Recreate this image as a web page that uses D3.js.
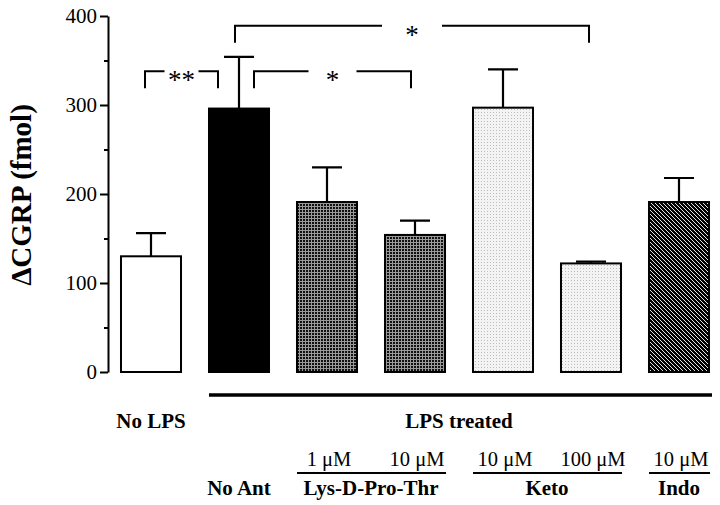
<!DOCTYPE html>
<html>
<head>
<meta charset="utf-8">
<script src="https://cdn.jsdelivr.net/npm/d3@7"></script>
<style>
  body { margin: 0; background: #fff; }
  svg { display: block; font-family: "Liberation Serif", "Times New Roman", serif; }
  .bar { stroke: #000; stroke-width: 2; }
  .err { stroke: #000; stroke-width: 2.2; fill: none; }
  .bracket { stroke: #000; stroke-width: 2; fill: none; }
  .axis path, .axis line { stroke: #000; stroke-width: 2; }
  .axis text { font-family: "Liberation Serif", "Times New Roman", serif; font-size: 21px; fill: #000; }
  .cat { font-size: 21px; font-weight: bold; }
  .dose { font-size: 20.5px; }
  .star { font-size: 27px; }
</style>
</head>
<body>
<div id="wrapper"></div>
<script>
// data
const conditions = ["No LPS", "No Ant", "LDPT 1", "LDPT 10", "Keto 10", "Keto 100", "Indo 10"]
const means = [130, 296, 191, 154, 297, 122, 191]
const sems = [26, 58, 39, 16, 43, 2, 27]
const doses = ["", "", "1 \u03bcM", "10 \u03bcM", "10 \u03bcM", "100 \u03bcM", "10 \u03bcM"]
const treatments = [
    { label: "No LPS", first: 0, last: 0, line: false },
    { label: "LPS treated", first: 1, last: 6, line: true },
]
const drugs = [
    { label: "No Ant", first: 1, last: 1 },
    { label: "Lys-D-Pro-Thr", first: 2, last: 3 },
    { label: "Keto", first: 4, last: 5 },
    { label: "Indo", first: 6, last: 6 },
]
const comparisons = [
    { from: 0, to: 1, label: "**" },
    { from: 1, to: 3, label: "*" },
    { from: 1, to: 5, label: "*" },
]
const yTicks = [0, 100, 200, 300, 400]
const yMinorTicks = [50, 150, 250, 350]

function drawChart() {

    const dimensions = {
        width: 720,
        height: 505,
    }

    const svg = d3.select("#wrapper")
        .append("svg")
        .attr("width", dimensions.width)
        .attr("height", dimensions.height)

    const defs = svg.append("defs")

    // dark checker fill
    const darkDots = defs.append("pattern")
        .attr("id", "dots-dark")
        .attr("width", 3).attr("height", 3)
        .attr("patternUnits", "userSpaceOnUse")
    darkDots.append("rect").attr("width", 3).attr("height", 3).attr("fill", "#9a9a9a")
    darkDots.append("rect").attr("width", 2).attr("height", 2).attr("fill", "#111")

    // light stipple fill
    const lightDots = defs.append("pattern")
        .attr("id", "dots-light")
        .attr("width", 3).attr("height", 3)
        .attr("patternUnits", "userSpaceOnUse")
    lightDots.append("rect").attr("width", 3).attr("height", 3).attr("fill", "#f3f3f3")
    lightDots.append("rect").attr("x", 1).attr("y", 1).attr("width", 1).attr("height", 1).attr("fill", "#bdbdbd")

    // black with white diagonal hatching
    const hatch = defs.append("pattern")
        .attr("id", "hatch")
        .attr("width", 4).attr("height", 4)
        .attr("patternUnits", "userSpaceOnUse")
    hatch.append("rect").attr("width", 4).attr("height", 4).attr("fill", "#000")
    hatch.selectAll(".px")
        .data(d3.range(4))
        .join("rect")
        .attr("x", d => d).attr("y", d => d)
        .attr("width", 1).attr("height", 1)
        .attr("fill", "#e4e4e4")

    const barFill = i => ["#fff", "#000", "url(#dots-dark)", "url(#dots-dark)",
        "url(#dots-light)", "url(#dots-light)", "url(#hatch)"][i]

    // scales
    const xScale = d3.scaleBand()
        .domain(d3.range(conditions.length))
        .range([107, 723])
        .paddingInner(0.318)
        .paddingOuter(0.159)
    const bw = xScale.bandwidth()
    const cx = i => xScale(i) + bw / 2

    const yScale = d3.scaleLinear()
        .domain([0, 400])
        .range([372, 16])

    // y axis
    svg.append("g")
        .attr("class", "axis")
        .attr("transform", "translate(108,0)")
        .call(d3.axisLeft(yScale).tickValues(yTicks).tickSize(8).tickSizeOuter(0).tickPadding(3))
    svg.append("g")
        .attr("class", "axis")
        .attr("transform", "translate(108,0)")
        .call(d3.axisLeft(yScale).tickValues(yMinorTicks).tickSize(4).tickSizeOuter(0).tickFormat(""))
        .select(".domain").remove()

    svg.append("text")
        .attr("transform", "translate(31,195) rotate(-90)")
        .attr("text-anchor", "middle")
        .style("font-size", "29px")
        .style("font-weight", "bold")
        .text("\u0394CGRP (fmol)")

    // bars
    svg.append("g").selectAll("rect")
        .data(means)
        .join("rect")
        .attr("class", "bar")
        .attr("x", (d, i) => xScale(i))
        .attr("y", d => yScale(d))
        .attr("width", bw)
        .attr("height", d => yScale(0) - yScale(d))
        .attr("fill", (d, i) => barFill(i))

    // error bars (upper only)
    const capHalf = bw / 4
    svg.append("g").selectAll("path")
        .data(means)
        .join("path")
        .attr("class", "err")
        .attr("d", (d, i) => {
            const top = yScale(d + sems[i])
            return `M${cx(i)},${yScale(d)}V${top}M${cx(i) - capHalf},${top}H${cx(i) + capHalf}`
        })

    // significance brackets
    const bracketLayout = [
        { level: 338, dx0: -6, dx1: -21, gap: 17 },
        { level: 338, dx0: 15, dx1: -4, gap: 24 },
        { level: 389, dx0: -4, dx1: -2, gap: 30 },
    ]
    const drop = 17
    comparisons.forEach((c, k) => {
        const lay = bracketLayout[k]
        const x0 = cx(c.from) + lay.dx0
        const x1 = cx(c.to) + lay.dx1
        const y = yScale(lay.level)
        const mid = (x0 + x1) / 2
        svg.append("path")
            .attr("class", "bracket")
            .attr("d", `M${x0},${y + drop}V${y}H${mid - lay.gap}M${mid + lay.gap},${y}H${x1}V${y + drop}`)
        svg.append("text")
            .attr("class", "star")
            .attr("x", mid)
            .attr("y", y + 18)
            .attr("text-anchor", "middle")
            .text(c.label)
    })

    // category labels under the bars
    treatments.forEach(t => {
        const x0 = xScale(t.first)
        const x1 = xScale(t.last) + bw
        if (t.line) {
            svg.append("line")
                .attr("x1", x0).attr("x2", x1 + 3)
                .attr("y1", 395).attr("y2", 395)
                .attr("stroke", "#000").attr("stroke-width", 3.5)
        }
        svg.append("text")
            .attr("class", "cat")
            .attr("x", (x0 + x1) / 2)
            .attr("y", 428)
            .attr("text-anchor", "middle")
            .text(t.label)
    })

    svg.append("g").selectAll("text")
        .data(doses)
        .join("text")
        .attr("class", "dose")
        .attr("x", (d, i) => cx(i) + 2)
        .attr("y", 466)
        .attr("text-anchor", "middle")
        .text(d => d)

    drugs.forEach(g => {
        const x0 = xScale(g.first)
        const x1 = xScale(g.last) + bw
        if (doses[g.first] !== "") {
            svg.append("line")
                .attr("x1", x0).attr("x2", x1 + 1)
                .attr("y1", 473).attr("y2", 473)
                .attr("stroke", "#000").attr("stroke-width", 2)
        }
        svg.append("text")
            .attr("class", "cat")
            .attr("x", (x0 + x1) / 2)
            .attr("y", 495)
            .attr("text-anchor", "middle")
            .text(g.label)
    })
}

drawChart()
</script>
</body>
</html>
